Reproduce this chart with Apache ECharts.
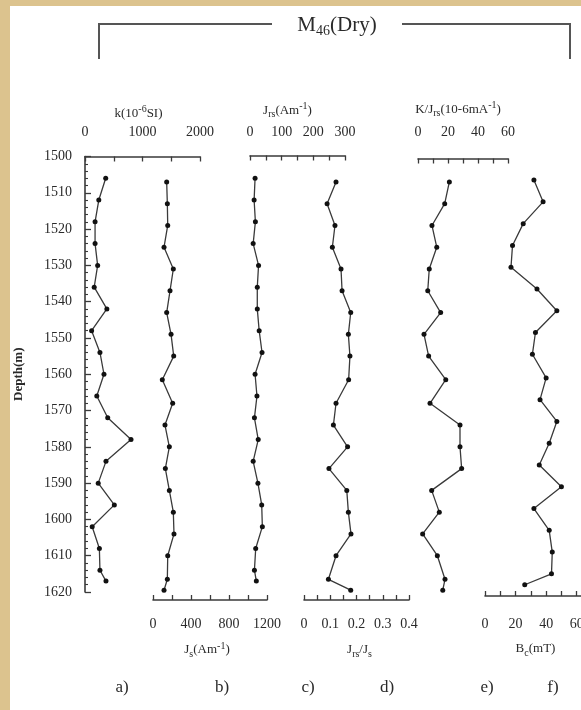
<!DOCTYPE html>
<html><head><meta charset="utf-8">
<script src="https://cdn.jsdelivr.net/npm/echarts@6/dist/echarts.min.js"></script>
<style>
html,body{margin:0;padding:0;width:581px;height:710px;overflow:hidden;background:#dcc38e;}
#paper{position:absolute;left:10px;top:6px;width:571px;height:704px;background:#ffffff;}
#chart{position:absolute;left:0;top:0;width:581px;height:710px;}
</style></head>
<body><div id="paper"></div><div id="chart"></div>
<script>
// ---- data ----
const depthA = [1506,1512,1518,1524,1530,1536,1542,1548,1554,1560,1566,1572,1578,1584,1590,1596,1602,1608,1614,1617];
const kVals  = [360,240,175,175,220,160,380,115,260,330,205,395,800,365,230,510,125,250,260,365];
const jrsVals = [16,13,17,10,27,23,23,29,38,16,22,14,26,10,25,37,39,18,14,20];
const depthB = [1507,1513,1519,1525,1531,1537,1543,1549,1555,1561.5,1568,1574,1580,1586,1592,1598,1604,1610,1616.5,1619.5];
const jsVals = [144,151,155,116,214,179,144,190,218,98,207,126,172,130,172,214,221,155,151,116];
const ratioVals = [0.122,0.088,0.118,0.108,0.141,0.145,0.178,0.169,0.175,0.170,0.122,0.112,0.166,0.095,0.163,0.169,0.179,0.122,0.093,0.178];
const kjrsVals = [20.9,17.8,9.3,12.5,7.5,6.5,15.1,4,7.1,18.5,8,28,28,29.1,9.1,14.2,3.1,12.9,18,16.5];
const depthF = [1506.5,1512.5,1518.5,1524.5,1530.5,1536.5,1542.5,1548.5,1554.5,1561,1567,1573,1579,1585,1591,1597,1603,1609,1615,1618];
const bcVals = [32,38,25,18,17,34,47,33,31,40,36,47,42,35.5,50,32,42,44,43.5,26];
const panelLetters = ['a)','b)','c)','d)','e)','f)'];
const depthMin = 1500, depthMax = 1620;

// ---- helpers ----
const FONT = '"Liberation Serif","DejaVu Serif",serif';
const TXT = '#2a2a2a';
const LINE = '#3a3a3a';
function every(step, dec){
  return function(v){
    const r = v/step;
    if (Math.abs(r-Math.round(r))>1e-6) return '';
    return dec ? (Math.abs(v)<1e-9 ? '0' : v.toFixed(dec)) : String(Math.round(v));
  };
}
function pairs(xs, ds){ return xs.map((x,i)=>[x, ds[i]]); }
const subRich = {
  n:{fontFamily:FONT,fontSize:13,color:TXT},
  sub:{fontFamily:FONT,fontSize:10,color:TXT,verticalAlign:'bottom',padding:[8,0,0,0]},
  sup:{fontFamily:FONT,fontSize:10,color:TXT,verticalAlign:'top',padding:[0,0,8,0]}
};
function xAx(gi, opt){
  return Object.assign({
    type:'value', gridIndex:gi, nameLocation:'middle',
    nameTextStyle:{fontFamily:FONT,fontSize:13,color:TXT,rich:subRich},
    axisLine:{show:true,lineStyle:{color:LINE,width:1.6}},
    axisTick:{show:true,inside:true,length:5,lineStyle:{color:LINE,width:1.3}},
    axisLabel:{fontFamily:FONT,fontSize:14,color:TXT,margin:12},
    splitLine:{show:false}
  }, opt);
}
const grids = [
  {left:85,  width:115, top:156.5, height:435.5},
  {left:153, width:114, top:156.5, height:435.5},
  {left:250, width:95,  top:156.5, height:435.5},
  {left:304, width:105, top:156.5, height:435.5},
  {left:418, width:90,  top:156.5, height:435.5},
  {left:485, width:107, top:156.5, height:435.5}
].map(g=>Object.assign({outerBoundsMode:'none',containLabel:false},g));

const xAxes = [
  xAx(0,{position:'top',min:0,max:2000,interval:500,axisLabel:{fontFamily:FONT,fontSize:14,color:TXT,margin:17,formatter:every(1000)},
     name:'{n|k(10}{sup|-6}{n|SI)}',nameGap:34,nameTextStyle:{fontFamily:FONT,fontSize:13,color:TXT,rich:subRich,padding:[0,8,0,0]}}),
  xAx(1,{position:'bottom',offset:8,min:0,max:1200,interval:200,axisLabel:{fontFamily:FONT,fontSize:14,color:TXT,margin:17,formatter:every(400)},
     name:'{n|J}{sub|s}{n|(Am}{sup|-1}{n|)}',nameGap:41,nameTextStyle:{fontFamily:FONT,fontSize:13,color:TXT,rich:subRich,padding:[0,6,0,0]}}),
  xAx(2,{position:'top',offset:1,min:0,max:300,interval:50,axisLabel:{fontFamily:FONT,fontSize:14,color:TXT,margin:16,formatter:every(100)},
     name:'{n|J}{sub|rs}{n|(Am}{sup|-1}{n|)}',nameGap:36,nameTextStyle:{fontFamily:FONT,fontSize:13,color:TXT,rich:subRich,padding:[0,20,0,0]}}),
  xAx(3,{position:'bottom',offset:8,min:0,max:0.4,interval:0.05,axisLabel:{fontFamily:FONT,fontSize:14,color:TXT,margin:17,formatter:every(0.1,1)},
     name:'{n|J}{sub|rs}{n|/J}{sub|s}',nameGap:41,nameTextStyle:{fontFamily:FONT,fontSize:13,color:TXT,rich:subRich,padding:[0,0,0,6]}}),
  xAx(4,{position:'top',offset:-2,min:0,max:60,interval:10,axisLabel:{fontFamily:FONT,fontSize:14,color:TXT,margin:19,formatter:every(20)},
     name:'{n|K/J}{sub|rs}{n|(10-6mA}{sup|-1}{n|)}',nameGap:40,nameTextStyle:{fontFamily:FONT,fontSize:13,color:TXT,rich:subRich,padding:[0,10,0,0]}}),
  xAx(5,{position:'bottom',offset:4,min:0,max:70,interval:10,axisLabel:{fontFamily:FONT,fontSize:14,color:TXT,margin:21,formatter:every(20)},
     name:'{n|B}{sub|c}{n|(mT)}',nameGap:44,nameTextStyle:{fontFamily:FONT,fontSize:13,color:TXT,rich:subRich,padding:[0,6,0,0]}})
];

const yAxes = grids.map((g,i)=>{
  if (i===0) return {
    type:'value', gridIndex:0, inverse:true, min:depthMin, max:depthMax, interval:10,
    name:'Depth(m)', nameLocation:'middle', nameRotate:90, nameGap:60,
    nameTextStyle:{fontFamily:FONT,fontSize:13,fontWeight:'bold',color:TXT},
    axisLine:{show:true,lineStyle:{color:LINE,width:1.6}},
    axisTick:{show:true,inside:true,length:6,lineStyle:{color:LINE,width:1.3}},
    minorTick:{show:true,splitNumber:5,length:3,lineStyle:{color:LINE,width:1.1}},
    axisLabel:{fontFamily:FONT,fontSize:14,color:TXT,margin:13,formatter:v=>String(Math.round(v))},
    splitLine:{show:false}
  };
  return {type:'value',gridIndex:i,inverse:true,min:depthMin,max:depthMax,show:false,splitLine:{show:false}};
});

function ser(i, xs, ds){
  return {type:'line', xAxisIndex:i, yAxisIndex:i, data:pairs(xs,ds),
    symbol:'circle', symbolSize:5, showSymbol:true, animation:false,
    lineStyle:{color:LINE,width:1.3}, itemStyle:{color:'#111'}};
}
const series = [
  ser(0,kVals,depthA), ser(1,jsVals,depthB), ser(2,jrsVals,depthA),
  ser(3,ratioVals,depthB), ser(4,kjrsVals,depthB), ser(5,bcVals,depthF)
];

const letterX = [122,222,308,387,487,553];
const graphic = [
  {type:'polyline',shape:{points:[[99,59],[99,24],[272,24]]},style:{stroke:'#555',lineWidth:2,fill:null}},
  {type:'polyline',shape:{points:[[402,24],[570,24],[570,59]]},style:{stroke:'#555',lineWidth:2,fill:null}},
  {type:'text',x:337,y:25,style:{text:'{m|M}{s|46}{m|(Dry)}',align:'center',verticalAlign:'middle',
     rich:{m:{fontFamily:FONT,fontSize:21,fill:TXT},s:{fontFamily:FONT,fontSize:14,fill:TXT,verticalAlign:'bottom',padding:[12,0,0,0]}}}}
].concat(panelLetters.map((t,i)=>({type:'text',x:letterX[i],y:688,style:{text:t,align:'center',verticalAlign:'middle',fontFamily:FONT,fontSize:17,fill:TXT}})));

const chart = echarts.init(document.getElementById('chart'), null, {renderer:'canvas'});
chart.setOption({
  backgroundColor:'transparent', animation:false,
  grid:grids, xAxis:xAxes, yAxis:yAxes, series:series, graphic:graphic
});
</script></body></html>
